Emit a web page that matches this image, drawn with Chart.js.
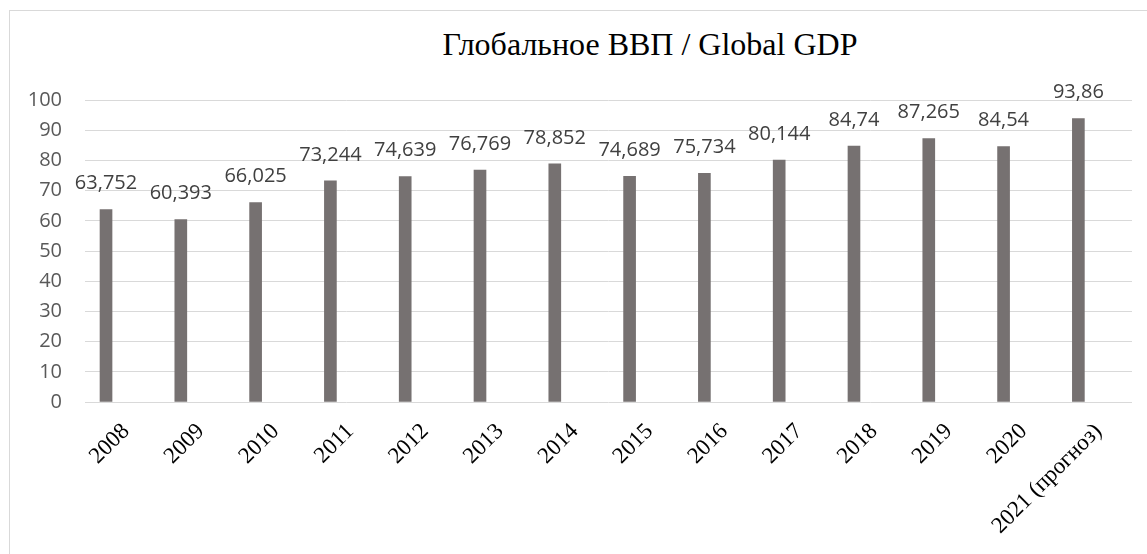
<!DOCTYPE html>
<html>
<head>
<meta charset="utf-8">
<script src="https://cdn.jsdelivr.net/npm/chart.js@4.4.1/dist/chart.umd.min.js"></script>
<style>
  html, body { margin: 0; padding: 0; background: #fff; overflow: hidden; }
  #wrap { position: relative; width: 1147px; height: 554px; }
  #frame { position: absolute; left: 9px; top: 10px; width: 1200px; height: 600px;
           border-left: 1px solid #d9d9d9; border-top: 1px solid #d9d9d9; }
  #title { position: absolute; left: 400px; width: 500px; top: 28px; text-align: center;
           font-family: "Liberation Serif", "Times New Roman", serif; font-size: 32px;
           line-height: 32px; color: #000; white-space: nowrap; }
  canvas { position: absolute; left: 0; top: 0; }
</style>
</head>
<body>
<div id="wrap">
  <div id="frame"></div>
  <div id="title">Глобальное ВВП / Global GDP</div>
  <canvas id="gdp" width="1147" height="554"></canvas>
</div>
<script>
const years = ['2008', '2009', '2010', '2011', '2012', '2013', '2014', '2015',
               '2016', '2017', '2018', '2019', '2020', '2021 (прогноз)'];
const gdp = [63.752, 60.393, 66.025, 73.244, 74.639, 76.769, 78.852, 74.689,
             75.734, 80.144, 84.74, 87.265, 84.54, 93.86];
const yTicks = [0, 10, 20, 30, 40, 50, 60, 70, 80, 90, 100];

// values drawn above each bar, with a comma as in the original
const valueLabels = {
    id: 'valueLabels',
    afterDatasetsDraw(chart) {
        const ctx = chart.ctx;
        const meta = chart.getDatasetMeta(0);
        ctx.save();
        ctx.font = '20px "Open Sans", sans-serif';
        ctx.fillStyle = '#404040';
        ctx.textAlign = 'center';
        ctx.textBaseline = 'middle';
        meta.data.forEach((bar, i) => {
            ctx.fillText(String(gdp[i]).replace('.', ','), bar.x, bar.y - 26);
        });
        ctx.restore();
    }
};

new Chart(document.getElementById('gdp'), {
    type: 'bar',
    data: {
        datasets: [{
            data: gdp.map((v, i) => ({ x: i, y: v })),
            backgroundColor: '#767171',
            barThickness: 12
        }]
    },
    options: {
        responsive: false,
        animation: false,
        devicePixelRatio: 1,
        layout: { padding: { left: 0, top: 100, right: 15, bottom: 0 } },
        plugins: { legend: { display: false }, tooltip: { enabled: false } },
        scales: {
            x: {
                type: 'linear',
                offset: false,
                min: -0.281,
                max: 13.717,
                afterBuildTicks: scale => { scale.ticks = years.map((_, i) => ({ value: i })); },
                afterFit: scale => { scale.height = 152; },
                grid: { display: false, offset: false },
                border: { display: false },
                ticks: {
                    autoSkip: false,
                    minRotation: 45,
                    maxRotation: 45,
                    padding: 8,
                    labelOffset: 20,
                    color: '#000',
                    font: { family: '"Liberation Serif", serif', size: 23 },
                    callback: v => years[v]
                }
            },
            y: {
                min: 0,
                max: 100,
                afterBuildTicks: scale => { scale.ticks = yTicks.map(v => ({ value: v })); },
                afterFit: scale => { scale.width = 85; },
                grid: { color: '#d9d9d9', lineWidth: 1, drawTicks: false },
                border: { display: false },
                ticks: {
                    padding: 23,
                    color: '#595959',
                    font: { family: '"Open Sans", sans-serif', size: 20 }
                }
            }
        }
    },
    plugins: [valueLabels]
});
</script>
</body>
</html>
